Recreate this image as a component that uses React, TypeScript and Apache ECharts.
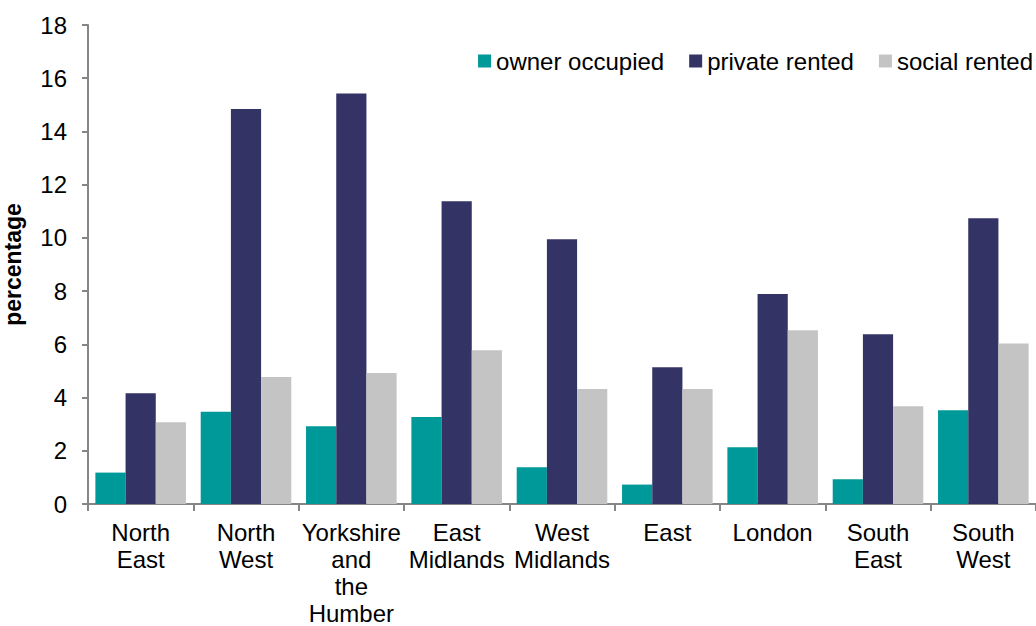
import React, { useEffect, useRef } from "react";
import * as echarts from "echarts";

const categories = [
  "North\nEast",
  "North\nWest",
  "Yorkshire\nand\nthe\nHumber",
  "East\nMidlands",
  "West\nMidlands",
  "East",
  "London",
  "South\nEast",
  "South\nWest",
];
const ownerOccupied = [1.18, 3.47, 2.92, 3.27, 1.38, 0.73, 2.13, 0.93, 3.52];
const privateRented = [4.16, 14.84, 15.43, 11.38, 9.95, 5.14, 7.89, 6.38, 10.74];
const socialRented = [3.07, 4.77, 4.92, 5.78, 4.32, 4.32, 6.53, 3.67, 6.03];
const seriesNames = ["owner occupied", "private rented", "social rented"];
const yTicks = { min: 0, max: 18, interval: 2 };

const FONT = "'Liberation Sans', Arial, sans-serif";

export default function App() {
  const ref = useRef<HTMLDivElement>(null);
  useEffect(() => {
    document.body.style.margin = "0";
    const chart = echarts.init(ref.current!, null, { renderer: "svg" });
    chart.setOption({
      animation: false,
      textStyle: { fontFamily: FONT },
      grid: { left: 88, right: 0, top: 25, bottom: 122, containLabel: false, outerBoundsMode: "none" },
      legend: {
        right: 3,
        top: 49,
        padding: 0,
        itemWidth: 13,
        itemHeight: 13,
        itemGap: 25,
        icon: "rect",
        textStyle: { fontSize: 24, color: "#000", fontFamily: FONT },
        data: seriesNames,
      },
      xAxis: {
        type: "category",
        data: categories,
        boundaryGap: true,
        axisLine: { lineStyle: { color: "#868686", width: 2 } },
        axisTick: { show: true, length: 7, lineStyle: { color: "#868686", width: 2 } },
        axisLabel: { color: "#000", fontSize: 24, lineHeight: 27, margin: 15, interval: 0, fontFamily: FONT },
      },
      yAxis: {
        type: "value",
        min: yTicks.min,
        max: yTicks.max,
        interval: yTicks.interval,
        name: "percentage",
        nameLocation: "middle",
        nameRotate: 90,
        nameGap: 64,
        nameTextStyle: { fontSize: 23, fontWeight: "bold", color: "#000", fontFamily: FONT },
        axisLine: { show: true, lineStyle: { color: "#868686", width: 2 } },
        axisTick: { show: true, length: 6, lineStyle: { color: "#868686", width: 2 } },
        axisLabel: { color: "#000", fontSize: 24, margin: 21, fontFamily: FONT },
        splitLine: { show: false },
      },
      series: [
        { name: seriesNames[0], type: "bar", data: ownerOccupied, itemStyle: { color: "#009999" }, barGap: "0%", barCategoryGap: "14%" },
        { name: seriesNames[1], type: "bar", data: privateRented, itemStyle: { color: "#333366" }, barGap: "0%", barCategoryGap: "14%" },
        { name: seriesNames[2], type: "bar", data: socialRented, itemStyle: { color: "#C4C4C4" }, barGap: "0%", barCategoryGap: "14%" },
      ],
    });
    return () => chart.dispose();
  }, []);
  return <div ref={ref} style={{ width: 1036, height: 626 }} />;
}
